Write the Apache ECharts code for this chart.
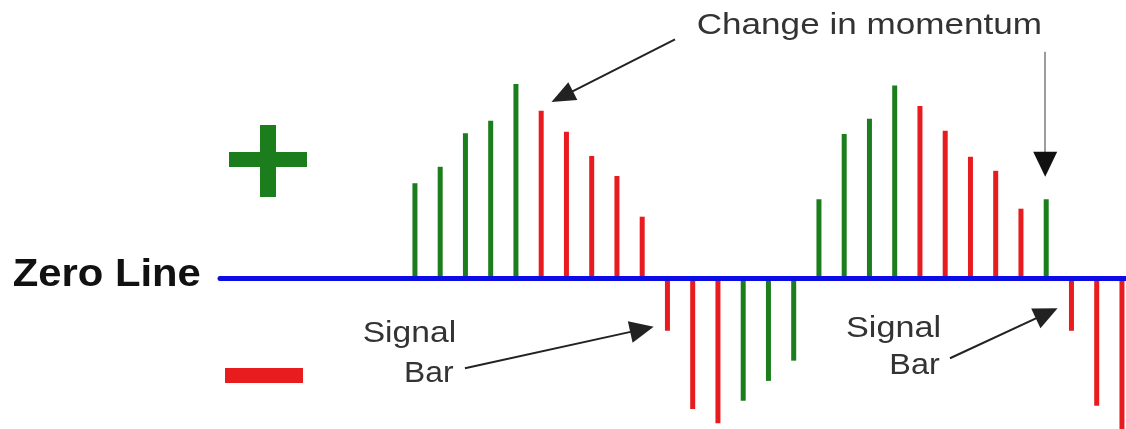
<!DOCTYPE html>
<html>
<head>
<meta charset="utf-8">
<script src="https://cdn.jsdelivr.net/npm/echarts@6/dist/echarts.min.js"></script>
<style>
html,body{margin:0;padding:0;background:#fff;}
#chart{width:1126px;height:429px;}
</style>
</head>
<body>
<div id="chart"></div>
<script>
// Momentum histogram values (bar index = position along the time axis)
const momentum = [47.6, 55.8, 72.5, 78.8, 97.1, 83.8, 73.3, 61.2, 51.2, 30.9,
                  -26, -65, -72.1, -60.9, -51, -40.9,
                  39.6, 72.1, 79.8, 96.4, 86.1, 73.8, 60.8, 53.8, 34.9, 39.6,
                  -26, -63.4, -76];
const barIndex = momentum.map((_, i) => i);

// Annotation arrows: [startIndex, startValue, endIndex, endValue]
const arrowMomentum1 = [10.30, 119.4, 5.83, 90.85];
const arrowMomentum2 = [24.96, 113.2, 24.96, 57.1];
const arrowSignal1 = [1.98, -44.7, 8.99, -25.3];
const arrowSignal2 = [21.19, -39.7, 25.02, -17.3];

const labels = {
  zero: 'Zero Line',
  change: 'Change in momentum',
  signal: 'Signal',
  bar: 'Bar'
};

const GREEN = '#1b7d1b';
const RED = '#e81c1e';
const BLUE = '#0c0ce6';
const FONT = '"Liberation Sans", Arial, sans-serif';

const chart = echarts.init(document.getElementById('chart'), null, {renderer: 'canvas'});

function arrow(a, size) {
  return [
    {coord: [a[0], a[1]], symbol: 'none'},
    {coord: [a[2], a[3]], symbol: 'triangle', symbolSize: size}
  ];
}

function txt(x, y, text, font, scaleX, fill) {
  return {
    type: 'text', x: x, y: y, scaleX: scaleX, originX: 0, originY: 0,
    silent: true,
    style: {
      text: text, font: font, fill: fill, x: 0, y: 0,
      align: 'left', verticalAlign: 'middle',
      textAlign: 'left', textVerticalAlign: 'middle'
    }
  };
}

const option = {
  backgroundColor: '#ffffff',
  animation: false,
  grid: {left: 220, right: 0, top: 0, bottom: 0, containLabel: false},
  xAxis: {
    type: 'value',
    min: -7.72,
    max: 28.16,
    z: 5,
    axisLine: {show: true, onZero: true, lineStyle: {color: BLUE, width: 5}},
    axisTick: {show: false},
    axisLabel: {show: false},
    splitLine: {show: false}
  },
  yAxis: {
    type: 'value',
    min: -75,
    max: 139,
    show: false,
    splitLine: {show: false}
  },
  series: [{
    type: 'bar',
    barWidth: 5,
    silent: true,
    data: barIndex.map(i => [i, momentum[i]]),
    itemStyle: {
      color: function (p) {
        const i = p.dataIndex;
        return (i === 0 || momentum[i] >= momentum[i - 1]) ? GREEN : RED;
      }
    },
    markLine: {
      silent: true,
      animation: false,
      label: {show: false},
      emphasis: {disabled: true},
      lineStyle: {color: '#222', width: 2, type: 'solid'},
      data: [
        arrow(arrowMomentum1, [20, 24]),
        [
          {coord: [arrowMomentum2[0], arrowMomentum2[1]], symbol: 'none', lineStyle: {color: '#9c9c9c', width: 2, type: 'solid'}},
          {coord: [arrowMomentum2[2], arrowMomentum2[3]], symbol: 'none'}
        ],
        [
          {coord: [arrowMomentum2[2], arrowMomentum2[3] + 3], symbol: 'none', lineStyle: {color: '#111', width: 2, type: 'solid'}},
          {coord: [arrowMomentum2[2], arrowMomentum2[3]], symbol: 'triangle', symbolSize: [24, 25]}
        ],
        arrow(arrowSignal1, [22, 24]),
        arrow(arrowSignal2, [22, 24])
      ]
    }
  }],
  graphic: [
    {type: 'rect', silent: true, shape: {x: 229, y: 152, width: 78, height: 15}, style: {fill: GREEN}},
    {type: 'rect', silent: true, shape: {x: 260, y: 125, width: 16, height: 72}, style: {fill: GREEN}},
    {type: 'rect', silent: true, shape: {x: 225, y: 368, width: 78, height: 15}, style: {fill: RED}},
    txt(12.7, 276, labels.zero, 'bold 38px ' + FONT, 1.10, '#111'),
    txt(696.7, 26, labels.change, '30px ' + FONT, 1.17, '#333'),
    txt(362.7, 334, labels.signal, '30px ' + FONT, 1.12, '#333'),
    txt(404, 374, labels.bar, '30px ' + FONT, 1.06, '#333'),
    txt(846, 329, labels.signal, '30px ' + FONT, 1.14, '#333'),
    txt(889.3, 366, labels.bar, '30px ' + FONT, 1.08, '#333')
  ]
};

chart.setOption(option);
</script>
</body>
</html>
